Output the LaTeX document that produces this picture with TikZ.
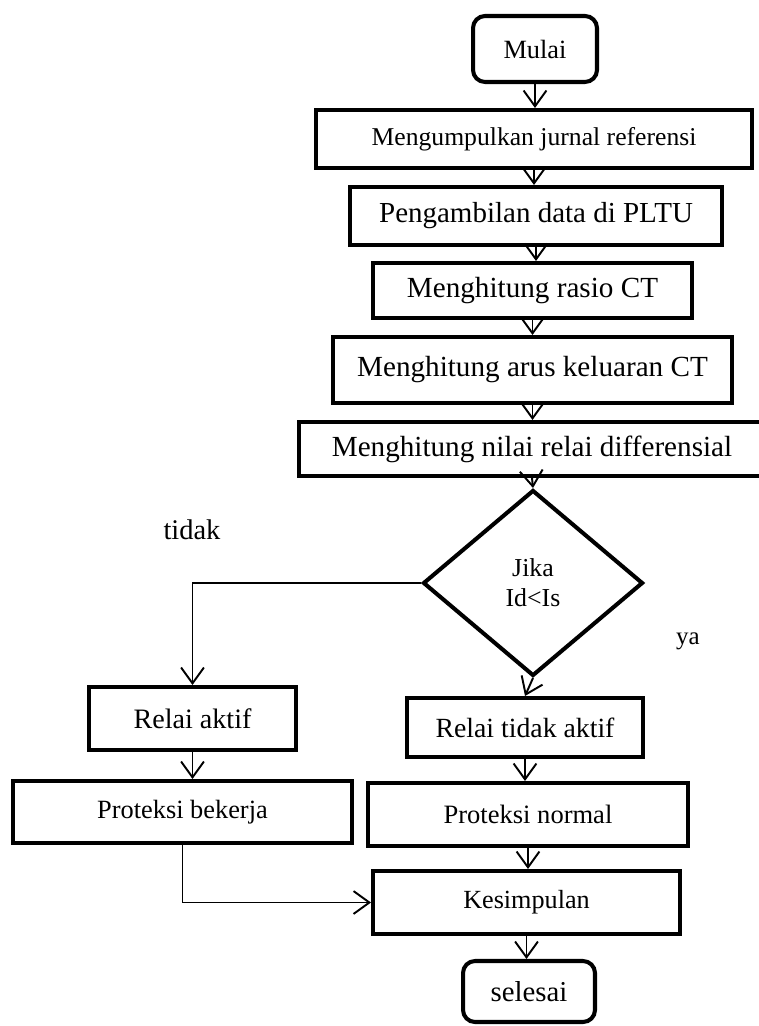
\documentclass[tikz,border=0pt]{standalone}
\usepackage{fontspec}
\setmainfont{Liberation Serif}
\usetikzlibrary{shapes.geometric}
\usetikzlibrary{arrows.meta}

\tikzset{
  kotak/.style={draw, line width=2.3pt, inner sep=0pt},
  terminal/.style={kotak, rounded corners=0.24cm},
  keputusan/.style={diamond, draw, line width=2.3pt, inner sep=0pt, align=center},
  panah/.style={-{Straight Barb[length=9pt,width=13pt]}, line width=1.1pt}
}

\begin{document}
\begin{tikzpicture}[x=0.02cm,y=-0.02cm]
\useasboundingbox (0,0) rectangle (759,1026);
\clip (0,0) rectangle (759,1026);
% alur utama
\node[terminal, minimum width=2.48cm, minimum height=1.32cm, font=\fontsize{15}{18}\selectfont] (mulai) at (535,49) {Mulai};
\node[kotak, minimum width=8.72cm, minimum height=1.16cm, font=\fontsize{14.6}{17}\selectfont] (jurnal) at (534,139) {Mengumpulkan jurnal referensi};
\node[kotak, minimum width=7.44cm, minimum height=1.16cm, font=\fontsize{16.5}{19}\selectfont] (pltu) at (536,216) {Pengambilan data di PLTU};
\node[kotak, minimum width=6.38cm, minimum height=1.10cm, font=\fontsize{16.6}{19}\selectfont] (rasio) at (532.5,290.5) {Menghitung rasio CT};
\node[kotak, minimum width=7.98cm, minimum height=1.32cm, font=\fontsize{16.6}{19}\selectfont] (arus) at (532.5,370) {Menghitung arus keluaran CT};
\node[kotak, minimum width=9.32cm, minimum height=1.08cm, font=\fontsize{16.6}{19}\selectfont] (nilai) at (532,449) {Menghitung nilai relai differensial};
\node[keputusan, minimum width=4.4cm, minimum height=3.72cm, font=\fontsize{14.7}{17}\selectfont] (dia) at (533,583) {Jika\\Id<Is};
% cabang kiri
\node[kotak, minimum width=4.14cm, minimum height=1.26cm, font=\fontsize{16}{19}\selectfont] (aktif) at (192.5,718.5) {Relai aktif};
\node[kotak, minimum width=6.78cm, minimum height=1.24cm, font=\fontsize{15}{18}\selectfont] (bekerja) at (182.5,812) {Proteksi bekerja};
% cabang kanan
\node[kotak, minimum width=4.72cm, minimum height=1.18cm, font=\fontsize{15.8}{19}\selectfont] (tdkaktif) at (525,727.5) {Relai tidak aktif};
\node[kotak, minimum width=6.40cm, minimum height=1.26cm, font=\fontsize{15.1}{18}\selectfont] (normal) at (528,814.5) {Proteksi normal};
\node[kotak, minimum width=6.14cm, minimum height=1.26cm, font=\fontsize{14.9}{18}\selectfont] (kesimpulan) at (526.5,902.5) {Kesimpulan};
\node[terminal, minimum width=2.64cm, minimum height=1.22cm, font=\fontsize{16.4}{19}\selectfont] (selesai) at (529,991.5) {selesai};
% label cabang
\node[font=\fontsize{16.2}{19}\selectfont] (tidak) at (192,530) {tidak};
\node[font=\fontsize{14.2}{17}\selectfont] (ya) at (688,641) {ya};

\draw[panah] (mulai.south) -- (mulai.south |- jurnal.north);
\draw[panah] (jurnal.south) -- (jurnal.south |- pltu.north);
\draw[panah] (pltu.south) -- (pltu.south |- rasio.north);
\draw[panah] (rasio.south) -- (rasio.south |- arus.north);
\draw[panah] (arus.south) -- (arus.south |- nilai.north);
\draw[panah] (nilai.south) -- (dia.north);
\draw[panah] (dia.west) -| (aktif.north);
\draw[panah] (dia.south) -- (tdkaktif.north);
\draw[panah] (aktif.south) -- (aktif.south |- bekerja.north);
\draw[panah] (tdkaktif.south) -- (tdkaktif.south |- normal.north);
\draw[panah] (normal.south) -- (normal.south |- kesimpulan.north);
\draw[panah] (bekerja.south) |- (kesimpulan.west);
\draw[panah] (kesimpulan.south) -- (kesimpulan.south |- selesai.north);
\end{tikzpicture}
\end{document}
